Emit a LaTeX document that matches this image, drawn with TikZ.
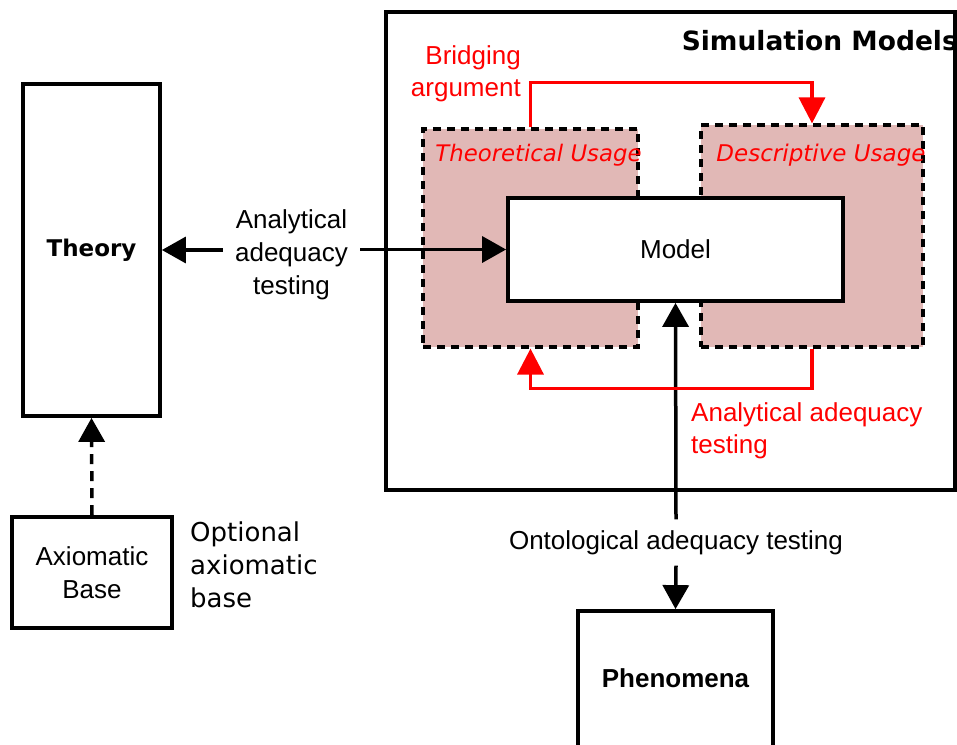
\documentclass[tikz,border=0pt]{standalone}
\usepackage{fontspec}
\setmainfont{Liberation Sans}
\newfontfamily\dejavu{DejaVu Sans}
\usetikzlibrary{arrows.meta}
\definecolor{usagefill}{RGB}{225,184,182}
\definecolor{pureRed}{RGB}{255,0,0}
\begin{document}
\begin{tikzpicture}[x=1pt,y=-1pt,
  box/.style={draw=black,line width=3.8pt,fill=white,inner sep=0pt},
  usage/.style={draw=black,line width=3.2pt,dash pattern=on 8pt off 6pt,fill=usagefill,inner sep=0pt},
  arr/.style={line width=3.5pt,-{Triangle[length=24pt,width=26pt]}},
  redarr/.style={draw=pureRed,line width=3.5pt,-{Triangle[length=26pt,width=26pt]},color=pureRed},
  lbl/.style={font=\fontsize{26}{33}\selectfont,align=center},
  dlbl/.style={font=\dejavu\fontsize{26}{33}\selectfont,align=left},
]
\useasboundingbox (0,0) rectangle (957,744);
% boxes
\node[box,minimum width=137pt,minimum height=332pt] (theory) at (91.5,250) {\dejavu\bfseries\fontsize{23}{28}\selectfont Theory};
\node[box,minimum width=160pt,minimum height=111pt,align=center,font=\fontsize{26}{33}\selectfont] (axiom) at (92,572.5) {Axiomatic\\Base};
\node[box,minimum width=569pt,minimum height=478pt] (sim) at (670.5,251) {};
\node[anchor=east,font=\dejavu\bfseries\fontsize{26.5}{30}\selectfont,inner sep=0pt] (simlbl) at (958,41) {Simulation Models};
\node[usage,minimum width=215pt,minimum height=218pt] (theo) at (530.5,238) {};
\node[usage,minimum width=222pt,minimum height=222pt] (desc) at (812,236) {};
\node[font=\dejavu\itshape\fontsize{22.8}{28}\selectfont,text=pureRed,inner sep=0pt] (theolbl) at (538.5,155) {Theoretical Usage};
\node[font=\dejavu\itshape\fontsize{23}{28}\selectfont,text=pureRed,inner sep=0pt] (desclbl) at (821,155) {Descriptive Usage};
\node[box,minimum width=335pt,minimum height=103pt,font=\fontsize{26}{28}\selectfont] (model) at (675.5,249.5) {Model};
\node[box,minimum width=195pt,minimum height=158pt] (phen) at (675.5,690) {};
\node[font=\bfseries\fontsize{26}{28}\selectfont,inner sep=0pt] (phenlbl) at (675.5,678) {Phenomena};
% labels
\node[lbl,inner xsep=12pt,inner ysep=2pt] (analytic) at (291.5,254.5) {Analytical\\adequacy\\testing};
\node[lbl,inner sep=0pt,minimum height=46pt] (onto) at (676,542.5) {Ontological adequacy testing};
\node[font=\fontsize{26}{32}\selectfont,align=right,text=pureRed,anchor=east,inner sep=0pt] (bridge) at (521,73.5) {Bridging\\argument};
\node[font=\fontsize{26}{32}\selectfont,align=left,text=pureRed,anchor=west,inner sep=0pt] (redana) at (691,431) {Analytical adequacy\\testing};
\node[dlbl,anchor=west,inner sep=0pt] (opt) at (190,565) {Optional\\axiomatic\\base};
% connectors
\draw[arr] (analytic.west |- theory.east) -- (theory.east);
\draw[arr] (analytic.east |- model.west) -- (model.west);
\draw[arr] (onto.north) -- (model.south);
\draw[arr] (onto.south) -- (phen.north);
\draw[arr,dash pattern=on 10pt off 7pt] (axiom.north) -- (theory.south);
\draw[redarr] (theo.north) -- ++(0,-45) -| (desc.north);
\draw[redarr] (desc.south) -- ++(0,40) -| (theo.south);
\end{tikzpicture}
\end{document}
